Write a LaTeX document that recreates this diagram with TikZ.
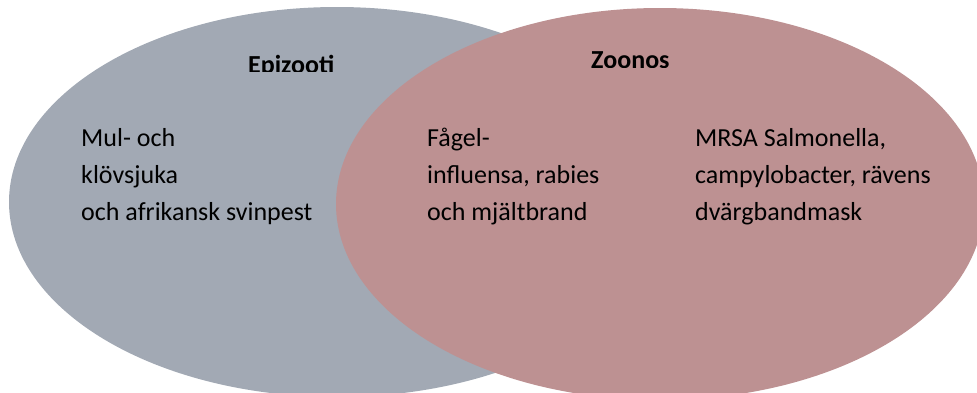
\documentclass[tikz,border=0pt]{standalone}
\usepackage{fontspec}
\setmainfont{Carlito}
\definecolor{epigray}{RGB}{162,169,180}
\definecolor{zoopink}{RGB}{189,145,146}
\tikzset{
  bodytext/.style={anchor=base west, inner sep=0pt, font=\fontsize{26}{37}\selectfont, text=black},
  titletext/.style={anchor=base west, inner sep=0pt, font=\fontsize{26}{30}\selectfont\bfseries, text=black}
}
\begin{document}
\begin{tikzpicture}[x=1pt,y=-1pt]
\useasboundingbox (0,0) rectangle (977,392);
\begin{scope}
\clip (0,0) rectangle (977,392);
\fill[epigray] (337,202) ellipse [x radius=328, y radius=195];
\fill[zoopink] (660,204) ellipse [x radius=324, y radius=196];
\end{scope}
\begin{scope}
\clip (200,40) rectangle (400,71);
\node[titletext] (epi) at (248,73.7) {Epizooti};
\end{scope}
\begin{scope}
\clip (540,40) rectangle (720,67);
\node[titletext] (zoo) at (591,68.7) {Zoonos};
\end{scope}
\node[bodytext] (l1) at (81,146) {Mul- och};
\node[bodytext] (l2) at (81,183) {klövsjuka};
\node[bodytext] (l3) at (81,220) {och afrikansk svinpest};
\node[bodytext] (m1) at (427,146) {Fågel-};
\node[bodytext] (m2) at (427,183) {influensa, rabies};
\node[bodytext] (m3) at (427,220) {och mjältbrand};
\node[bodytext] (r1) at (695,146) {MRSA Salmonella,};
\node[bodytext] (r2) at (695,183) {campylobacter, rävens};
\node[bodytext] (r3) at (695,220) {dvärgbandmask};
\end{tikzpicture}
\end{document}
